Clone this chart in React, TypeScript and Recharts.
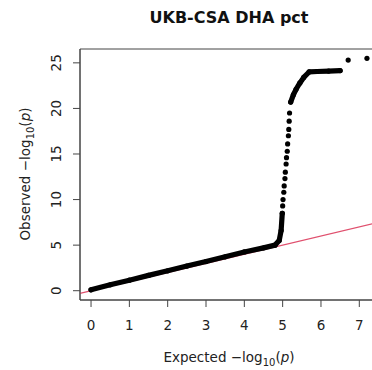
import { ComposedChart, Scatter, XAxis, YAxis, ReferenceLine, ReferenceArea, Label } from "recharts";

const bandLow = [
  { x: 0.0, y: 0.1 },
  { x: 0.5, y: 0.65 },
  { x: 1.0, y: 1.15 },
  { x: 1.5, y: 1.68 },
  { x: 2.0, y: 2.18 },
  { x: 2.5, y: 2.7 },
  { x: 3.0, y: 3.2 },
  { x: 3.5, y: 3.72 },
  { x: 4.0, y: 4.25 },
  { x: 4.5, y: 4.7 },
  { x: 4.8, y: 5.0 },
  { x: 4.91, y: 5.5 },
  { x: 4.96, y: 6.6 },
  { x: 4.99, y: 8.5 },
];

const sparse = [
  { x: 5.0, y: 9.3 },
  { x: 5.01, y: 10.0 },
  { x: 5.03, y: 10.8 },
  { x: 5.04, y: 11.5 },
  { x: 5.06, y: 12.3 },
  { x: 5.07, y: 13.0 },
  { x: 5.09, y: 13.9 },
  { x: 5.1, y: 14.6 },
  { x: 5.12, y: 15.3 },
  { x: 5.13, y: 16.1 },
  { x: 5.15, y: 17.0 },
  { x: 5.16, y: 17.7 },
  { x: 5.17, y: 18.6 },
  { x: 5.18, y: 19.5 },
];

const bandHigh = [
  { x: 5.21, y: 20.7 },
  { x: 5.28, y: 21.5 },
  { x: 5.35, y: 22.1 },
  { x: 5.45, y: 22.8 },
  { x: 5.55, y: 23.4 },
  { x: 5.69, y: 24.0 },
  { x: 5.9, y: 24.05 },
  { x: 6.2, y: 24.1 },
  { x: 6.5, y: 24.15 },
];

const topHits = [
  { x: 6.71, y: 25.3 },
  { x: 7.2, y: 25.5 },
];

const xTicks = [0, 1, 2, 3, 4, 5, 6, 7];
const yTicks = [0, 5, 10, 15, 20, 25];
const xDomain = [-0.288, 7.488];
const yDomain = [-1.02, 26.52];

const FONT = "'DejaVu Sans', sans-serif";
const INK = "#222";

const dot = (props: any) => <circle cx={props.cx} cy={props.cy} r={2.6} fill="#000" />;

const YTick = (props: any) => {
  const { x, y, payload } = props;
  return (
    <text x={x} y={y} transform={`rotate(-90, ${x}, ${y})`} textAnchor="middle" fontSize={13.5} fontFamily={FONT} fill={INK}>
      {payload.value}
    </text>
  );
};

export default function App() {
  return (
    <div style={{ position: "absolute", left: 0, top: 0, width: 372, height: 370, overflow: "hidden", background: "#fff" }}>
      <div
        style={{
          position: "absolute",
          left: 0,
          width: 458,
          top: 8,
          textAlign: "center",
          fontFamily: FONT,
          fontWeight: "bold",
          fontSize: 16,
          color: "#111",
        }}
      >
        UKB-CSA DHA pct
      </div>
      <ComposedChart width={420} height={370} margin={{ top: 49, right: 42, left: 0, bottom: 0 }}>
        <XAxis
          type="number"
          dataKey="x"
          domain={xDomain}
          ticks={xTicks}
          allowDataOverflow
          height={70}
          stroke="#444"
          tickSize={7}
          tickMargin={13}
          tick={{ fontSize: 13.5, fontFamily: FONT, fill: INK }}
        >
          <Label
            content={() => (
              <text x={229} y={362} textAnchor="middle" fontSize={13.5} fontFamily={FONT} fill={INK}>
                Expected {"\u2212"}log
                <tspan fontSize={10} dy={4}>10</tspan>
                <tspan dy={-4}>(</tspan>
                <tspan fontStyle="italic">p</tspan>)
              </text>
            )}
          />
        </XAxis>
        <YAxis
          type="number"
          dataKey="y"
          domain={yDomain}
          ticks={yTicks}
          allowDataOverflow
          width={80}
          stroke="#444"
          tickSize={7}
          tickMargin={12}
          tick={<YTick />}
        >
          <Label
            content={() => (
              <text
                x={30}
                y={174}
                transform="rotate(-90, 30, 174)"
                textAnchor="middle"
                fontSize={13.5}
                fontFamily={FONT}
                fill={INK}
              >
                Observed {"\u2212"}log
                <tspan fontSize={10} dy={4}>10</tspan>
                <tspan dy={-4}>(</tspan>
                <tspan fontStyle="italic">p</tspan>)
              </text>
            )}
          />
        </YAxis>
        <ReferenceArea x1={xDomain[0]} x2={xDomain[1]} y1={yDomain[0]} y2={yDomain[1]} fill="none" stroke="#444" strokeWidth={1} />
        <Scatter
          data={bandLow}
          line={{ stroke: "#000", strokeWidth: 5.2, strokeLinejoin: "round", strokeLinecap: "round" }}
          shape={dot}
          isAnimationActive={false}
        />
        <Scatter data={sparse} shape={dot} isAnimationActive={false} />
        <Scatter
          data={bandHigh}
          line={{ stroke: "#000", strokeWidth: 5.2, strokeLinejoin: "round", strokeLinecap: "round" }}
          shape={dot}
          isAnimationActive={false}
        />
        <Scatter data={topHits} shape={dot} isAnimationActive={false} />
        <ReferenceLine
          segment={[
            { x: xDomain[0], y: xDomain[0] },
            { x: xDomain[1], y: xDomain[1] },
          ]}
          stroke="#e0506e"
          strokeWidth={1.2}
        />
      </ComposedChart>
    </div>
  );
}
